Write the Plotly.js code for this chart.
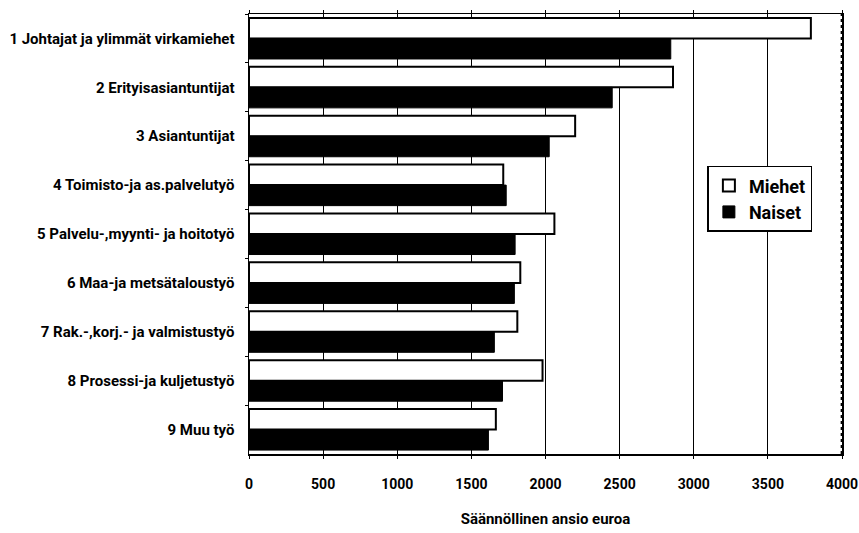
<!DOCTYPE html>
<html>
<head>
<meta charset="utf-8">
<script src="https://cdn.plot.ly/plotly-3.0.1.min.js"></script>
<style>
html,body{margin:0;padding:0;background:#fff;}
#chart{width:859px;height:533px;}
</style>
</head>
<body>
<div id="chart"></div>
<script>
var categories = [
  "1 Johtajat ja ylimmät virkamiehet",
  "2 Erityisasiantuntijat",
  "3 Asiantuntijat",
  "4 Toimisto-ja as.palvelutyö",
  "5 Palvelu-,myynti- ja hoitotyö",
  "6 Maa-ja metsätaloustyö",
  "7 Rak.-,korj.- ja valmistustyö",
  "8 Prosessi-ja kuljetustyö",
  "9 Muu työ"
];
var miehet = [3790, 2860, 2200, 1715, 2060, 1830, 1810, 1980, 1665];
var naiset = [2845, 2450, 2025, 1735, 1795, 1790, 1655, 1710, 1615];
var xTicks = [0, 500, 1000, 1500, 2000, 2500, 3000, 3500, 4000];

var fnt = "Roboto, 'Liberation Sans', sans-serif";

var traces = [
  {type: "bar", orientation: "h", name: "Miehet", y: categories, x: miehet,
   marker: {color: "#ffffff", line: {color: "#000000", width: 2}}},
  {type: "bar", orientation: "h", name: "Naiset", y: categories, x: naiset,
   marker: {color: "#000000", line: {color: "#000000", width: 1}}}
];

var layout = {
  width: 859, height: 533,
  margin: {l: 249, r: 17, t: 14, b: 79},
  paper_bgcolor: "#ffffff", plot_bgcolor: "#ffffff",
  barmode: "group", bargap: 0.16, bargroupgap: 0,
  showlegend: true,
  legend: {x: 0.773, y: 0.655, xanchor: "left", yanchor: "top",
           bgcolor: "#ffffff", bordercolor: "#000000", borderwidth: 1.5,
           font: {family: fnt, size: 18, color: "#000", weight: "bold"}, itemwidth: 30},
  xaxis: {range: [0, 4000], tickvals: xTicks, ticktext: xTicks.map(String),
          showgrid: true, gridcolor: "#000000", gridwidth: 1,
          zeroline: false, showline: true, linecolor: "#000", linewidth: 1.5,
          mirror: "allticks", ticks: "outside", ticklen: 3, tickcolor: "#000",
          ticklabeloverflow: "allow", ticklabelstandoff: 14,
          tickfont: {family: fnt, size: 14, color: "#000", weight: "bold"},
          title: {text: "Säännöllinen ansio euroa", standoff: 22,
                  font: {family: fnt, size: 15, color: "#000", weight: "bold"}}},
  yaxis: {autorange: "reversed", showgrid: false, showline: true, linecolor: "#000",
          linewidth: 1.5, mirror: true, ticks: "outside", tickson: "boundaries",
          ticklen: 3, tickcolor: "#000", ticklabelstandoff: 10,
          tickfont: {family: fnt, size: 15, color: "#000", weight: "bold"}},
  shapes: [{type: "line", xref: "paper", yref: "paper", x0: 0.999, x1: 0.999, y0: 0, y1: 1,
            line: {color: "#000", width: 1.5, dash: "dot"}}]
};

Plotly.newPlot("chart", traces, layout, {displayModeBar: false, staticPlot: true});
</script>
</body>
</html>
